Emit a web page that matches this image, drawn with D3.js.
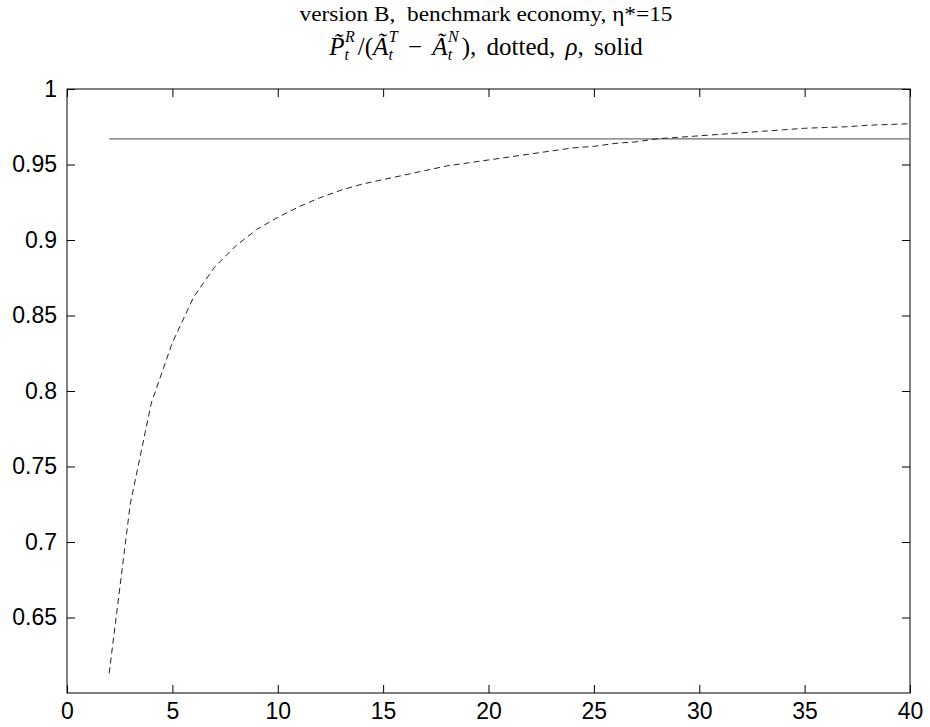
<!DOCTYPE html>
<html>
<head>
<meta charset="utf-8">
<script src="https://cdn.jsdelivr.net/npm/d3@7/dist/d3.min.js"></script>
<style>
  body { margin: 0; background: #fff; }
  .tick text { font-family: "Liberation Sans", Arial, sans-serif; font-size: 23px; fill: #000; }
  .tick line { stroke: #000; }
  .domain { display: none; }
  .title { white-space: pre; }
</style>
</head>
<body>
<div id="chart"></div>
<script>
// data
const periods = d3.range(2, 41);
const ratioValues = [
  0.613, 0.725, 0.792, 0.832, 0.862, 0.882, 0.896, 0.907, 0.915, 0.922,
  0.928, 0.933, 0.937, 0.940, 0.943, 0.946, 0.949, 0.951, 0.953, 0.955,
  0.957, 0.959, 0.961, 0.962, 0.964, 0.965, 0.967, 0.968, 0.969, 0.970,
  0.971, 0.972, 0.973, 0.974, 0.9745, 0.975, 0.976, 0.9765, 0.977
];
const rhoValues = periods.map(() => 0.967);
const xTicks = [0, 5, 10, 15, 20, 25, 30, 35, 40];
const yTicks = [0.65, 0.7, 0.75, 0.8, 0.85, 0.9, 0.95, 1];
const yTickLabels = ["0.65", "0.7", "0.75", "0.8", "0.85", "0.9", "0.95", "1"];

const W = 930, H = 727;
const margin = { top: 89, right: 20, bottom: 34, left: 67 };
const width = W - margin.left - margin.right;
const height = H - margin.top - margin.bottom;

const svg = d3.select("#chart").append("svg")
  .attr("width", W)
  .attr("height", H);

const g = svg.append("g")
  .attr("transform", `translate(${margin.left},${margin.top})`);

const x = d3.scaleLinear().domain([0, 40]).range([0, width]);
const y = d3.scaleLinear().domain([0.6, 1]).range([height, 0]);

// axes, ticks pointing inward like matlab
g.append("g")
  .call(d3.axisBottom(x).tickValues(xTicks).tickSize(-8).tickPadding(10).tickFormat(d3.format("d")))
  .attr("transform", `translate(0,${height})`);
g.append("g")
  .call(d3.axisTop(x).tickValues(xTicks).tickSize(-8).tickFormat(""));
g.append("g")
  .call(d3.axisLeft(y).tickValues(yTicks).tickSize(-8).tickPadding(10)
    .tickFormat((d, i) => yTickLabels[i]));
g.append("g")
  .attr("transform", `translate(${width},0)`)
  .call(d3.axisRight(y).tickValues(yTicks).tickSize(-8).tickFormat(""));

g.append("rect")
  .attr("width", width)
  .attr("height", height)
  .attr("fill", "none")
  .attr("stroke", "#000");

// lines
const line = d3.line()
  .x((d, i) => x(periods[i]))
  .y(d => y(d));

g.append("path")
  .datum(rhoValues)
  .attr("d", line)
  .attr("fill", "none")
  .attr("stroke", "#6e6e6e")
  .attr("stroke-width", 1.2);

g.append("path")
  .datum(ratioValues)
  .attr("d", line)
  .attr("fill", "none")
  .attr("stroke", "#222")
  .attr("stroke-width", 1)
  .attr("stroke-dasharray", "6,4");

// titles
const cx = 486;
svg.append("text")
  .attr("class", "title")
  .attr("x", cx)
  .attr("y", 21)
  .attr("text-anchor", "middle")
  .attr("font-family", "Liberation Serif, Times New Roman, serif")
  .attr("font-size", 21)
  .attr("textLength", 373)
  .attr("lengthAdjust", "spacingAndGlyphs")
  .text("version B,  benchmark economy, η*=15");

// second line, latex-like math (sub at +5, sup at -13 from baseline)
const t2 = svg.append("text")
  .attr("class", "title")
  .attr("x", cx)
  .attr("y", 55)
  .attr("text-anchor", "middle")
  .attr("font-family", "Liberation Serif, Times New Roman, serif")
  .attr("font-size", 25)
  .attr("word-spacing", 4);
function subSup(base, sub, sup, pad) {
  t2.append("tspan").attr("font-style", "italic").text(base);
  t2.append("tspan").attr("font-style", "italic").attr("font-size", 16).attr("dy", 5).text(sub);
  t2.append("tspan").attr("font-style", "italic").attr("font-size", 16).attr("dx", -4).attr("dy", -18).text(sup);
  return pad;
}
subSup("P\u0303", "t", "R");
t2.append("tspan").attr("dy", 13).attr("dx", 3).text("/(");
subSup("A\u0303", "t", "T");
t2.append("tspan").attr("dy", 13).text(" \u2212 ");
subSup("A\u0303", "t", "N");
t2.append("tspan").attr("dy", 13).attr("dx", 3).text("), dotted, ");
t2.append("tspan").attr("font-style", "italic").text("ρ");
t2.append("tspan").text(", solid");
</script>
</body>
</html>
